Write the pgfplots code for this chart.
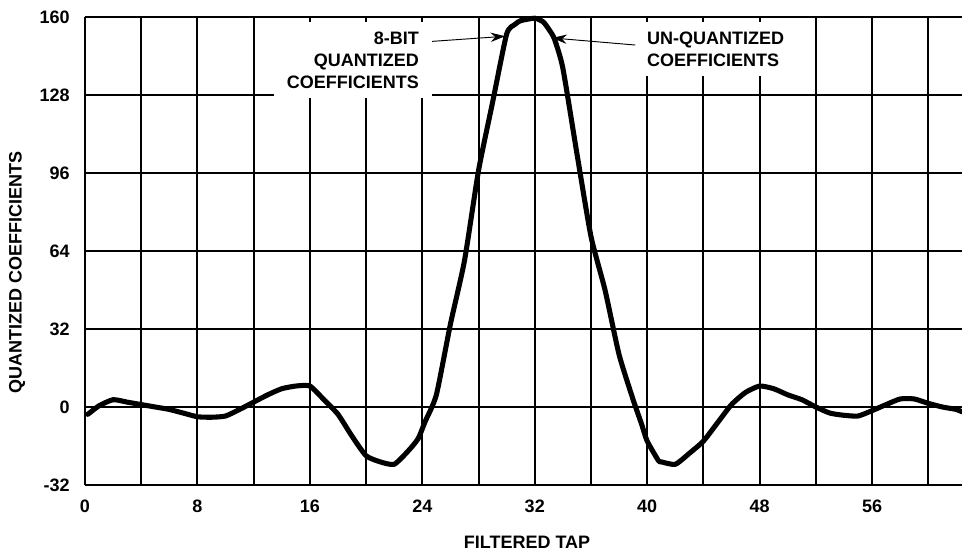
\documentclass[border=0pt]{standalone}
\usepackage{fontspec}
\setmainfont{Liberation Sans}
\usepackage{pgfplots}
\pgfplotsset{compat=1.18}
\usetikzlibrary{arrows.meta}

\begin{document}
\begin{tikzpicture}
\useasboundingbox (-63.75pt,-51pt) rectangle (657.75pt,363.75pt);
\begin{axis}[
  at={(0pt,0pt)}, anchor=south west,
  scale only axis, width=657.75pt, height=351pt,
  xmin=0, xmax=62.4, ymin=-32, ymax=160,
  axis x line*=box, axis y line*=left,
  axis line style={-, line width=1.6pt},
  xtick={0,4,...,60},
  xticklabels={0,,8,,16,,24,,32,,40,,48,,56,},
  ytick={-32,0,32,...,160},
  major tick length=0pt,
  grid=major,
  major grid style={black, line width=1.55pt},
  tick label style={font=\fontsize{13.5}{16}\selectfont\bfseries},
  /pgf/number format/assume math mode=true,
  xticklabel shift=8pt, yticklabel shift=8pt,
  label style={font=\fontsize{13.5}{16}\selectfont\bfseries},
  xlabel={FILTERED TAP},
  ylabel={QUANTIZED COEFFICIENTS},
  xlabel style={at={(rel axis cs:0.504,-0.122)}, anchor=center},
  ylabel style={at={(rel axis cs:-0.0775,0.455)}, anchor=center},
  clip=false,
]
\addplot[black, line width=3.8pt, line join=round, line cap=round, smooth, tension=0.35] coordinates {
 (0.2,-3) (1,0.5) (2,3) (3,2) (4,1) (5,0) (6,-1) (7,-2.5) (8,-4) (9,-4.2)
 (10,-3.7) (11,-1) (12,2) (13,5) (14,7.5) (15,8.6) (16,8.6) (17,3) (18,-3)
 (19,-12) (20,-20) (21,-22.5) (22,-23.5) (23,-18) (23.7,-13) (24.2,-6) (25,5)
 (26,34) (27,60) (28,97) (29,125) (30,153) (30.6,157) (31,158.5) (32,159.5)
 (32.6,158) (33,155) (33.4,151) (34,139) (35,104) (36,70) (37,48) (38,21.5)
 (39,3) (39.6,-7) (40,-14) (40.8,-22) (41,-22.5) (42,-23.5) (43,-19) (44,-14)
 (45,-6.5) (46,1) (47,6) (48,8.6) (49,7.5) (50,5) (51,3) (52,0) (53,-2.5)
 (54,-3.4) (55,-3.7) (56,-1.5) (57,1) (58,3.3) (59,3.3) (60,1.5) (61,0)
 (62,-1) (62.4,-2)
};
\node[fill=white, align=right, anchor=north east, inner xsep=9.75pt, inner ysep=7pt,
  font=\fontsize{13.5}{16.5}\selectfont\bfseries]
  at (axis cs:24.7,158.0) {8-BIT\\QUANTIZED\\COEFFICIENTS};
\node[fill=white, align=left, anchor=north west, inner xsep=8.25pt, inner ysep=7pt,
  font=\fontsize{13.5}{16.5}\selectfont\bfseries]
  at (axis cs:39.2,158.0) {UN-QUANTIZED\\COEFFICIENTS};
\draw[line width=0.7pt, -{Stealth[length=11pt, width=7pt]}] (axis cs:24.7,150.0) -- (axis cs:29.9,152.1);
\draw[line width=0.7pt, -{Stealth[length=11pt, width=7pt]}] (axis cs:39.15,148.5) -- (axis cs:33.24,151.4);
\end{axis}
\end{tikzpicture}
\end{document}
